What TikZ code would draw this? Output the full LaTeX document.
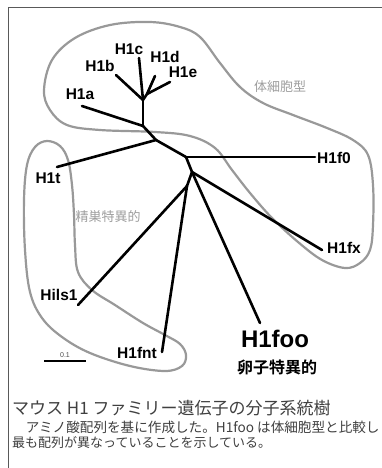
\documentclass[tikz,border=0pt]{standalone}
\usepackage{fontspec}
\setmainfont{Liberation Sans}
\newfontfamily\jp{Noto Sans CJK JP}
\newfontfamily\jpb{Noto Sans CJK JP Bold}
\begin{document}
\begin{tikzpicture}[x=1pt,y=-1pt,
  br/.style={line width=2.6pt,line cap=round},
  grp/.style={line width=2.2pt,draw=black!40},
  lbl/.style={font=\bfseries\fontsize{15.5}{16}\selectfont,inner sep=0pt,anchor=base},
  grlbl/.style={font=\jp\fontsize{13}{14}\selectfont,text=black!38,inner sep=0pt},
  captext/.style={font=\jp\fontsize{13}{14}\selectfont,text=black!75,inner sep=0pt,anchor=west}]
\useasboundingbox (0,0) rectangle (382,468);
\fill[white] (0,0) rectangle (382,468);
% frame
\draw[black!65,line width=0.9pt] (8,468) -- (8,7) -- (382,7);
% group outlines
\draw[grp] plot[smooth cycle,tension=0.6] coordinates {
 (44,90) (52,60) (75,38) (110,25) (150,22) (180,27) (200,37) (220,63) (240,87)
 (263,103) (293,115) (327,128) (353,140) (368,155) (373,185) (373,225) (370,250)
 (360,263) (345,268) (322,260) (298,242) (272,218) (250,193) (232,170) (215,148)
 (190,136) (155,132) (100,130) (67,125) (50,110)};
\draw[grp] plot[smooth cycle,tension=0.6] coordinates {
 (47,141) (60,146) (68,160) (72,185) (74,215) (75,245) (78,272) (92,290)
 (115,305) (143,323) (165,335) (180,344) (186,355) (182,366) (165,371) (130,366)
 (90,353) (62,337) (42,318) (30,292) (25,250) (24,200) (27,165) (35,147)};
% tree coordinates
\coordinate (n1) at (143,100);
\coordinate (n1b) at (147,94);
\coordinate (n2) at (143,126);
\coordinate (n3) at (156,140);
\coordinate (n4) at (186,157);
\coordinate (n5) at (192,172);
\coordinate (n6) at (187,186);
\coordinate (la) at (82,106);
\coordinate (lb) at (116,75);
\coordinate (lc) at (139,58);
\coordinate (ld) at (155,76);
\coordinate (le) at (170,82);
\coordinate (lt) at (57,167);
\coordinate (lf0) at (315,157);
\coordinate (lfx) at (322,250);
\coordinate (lfoo) at (260,323);
\coordinate (lils) at (78,305);
\coordinate (lfnt) at (162,352);
\draw[br] (lb) -- (n1);
\draw[br] (lc) -- (n1);
\draw[br] (ld) -- (n1b);
\draw[br] (le) -- (n1b);
\draw[br] (n1b) -- (n1);
\draw[br] (n1) -- (n2);
\draw[br] (la) -- (n2);
\draw[br] (n2) -- (n3);
\draw[br] (lt) -- (n3);
\draw[br] (n3) -- (n4);
\draw[br] (n4) -- (lf0);
\draw[br] (n4) -- (n5);
\draw[br] (n5) -- (lfx);
\draw[br] (n5) -- (lfoo);
\draw[br] (n5) -- (n6);
\draw[br] (n6) -- (lils);
\draw[br] (n6) -- (lfnt);
% labels
\node[lbl] (ta) at (80,100) {H1a};
\node[lbl] (tb) at (100,72) {H1b};
\node[lbl] (tc) at (129,55) {H1c};
\node[lbl] (td) at (165,63) {H1d};
\node[lbl] (te) at (183,78) {H1e};
\node[lbl] (tf0) at (334,163) {H1f0};
\node[lbl] (tt) at (48,183) {H1t};
\node[lbl] (tfx) at (344,253) {H1fx};
\node[lbl] (tils) at (59,300) {Hils1};
\node[lbl] (tfnt) at (137,358) {H1fnt};
\node[lbl,font=\bfseries\fontsize{24}{26}\selectfont] (tfoo) at (275,347) {H1foo};
\node[inner sep=0pt,font=\jpb\fontsize{16}{17}\selectfont] (oo) at (277,367) {卵子特異的};
\node[grlbl] (soma) at (280,87) {体細胞型};
\node[grlbl] (test) at (108,217) {精巣特異的};
% scale bar
\coordinate (s1) at (44,361);
\coordinate (s2) at (86,361);
\draw[line width=2.4pt] (s1) -- (s2);
\node[inner sep=0pt,font=\fontsize{7}{8}\selectfont,text=black!70] (sb) at (65,355) {0.1};
% caption
\node[captext,font=\jp\fontsize{17}{18}\selectfont] (c1) at (12,408) {マウス H1 ファミリー遺伝子の分子系統樹};
\node[captext,font=\jp\fontsize{13.6}{15}\selectfont] (c2) at (12,427) {　アミノ酸配列を基に作成した。H1foo は体細胞型と比較し};
\node[captext] (c3) at (12,443) {最も配列が異なっていることを示している。};
\end{tikzpicture}
\end{document}
